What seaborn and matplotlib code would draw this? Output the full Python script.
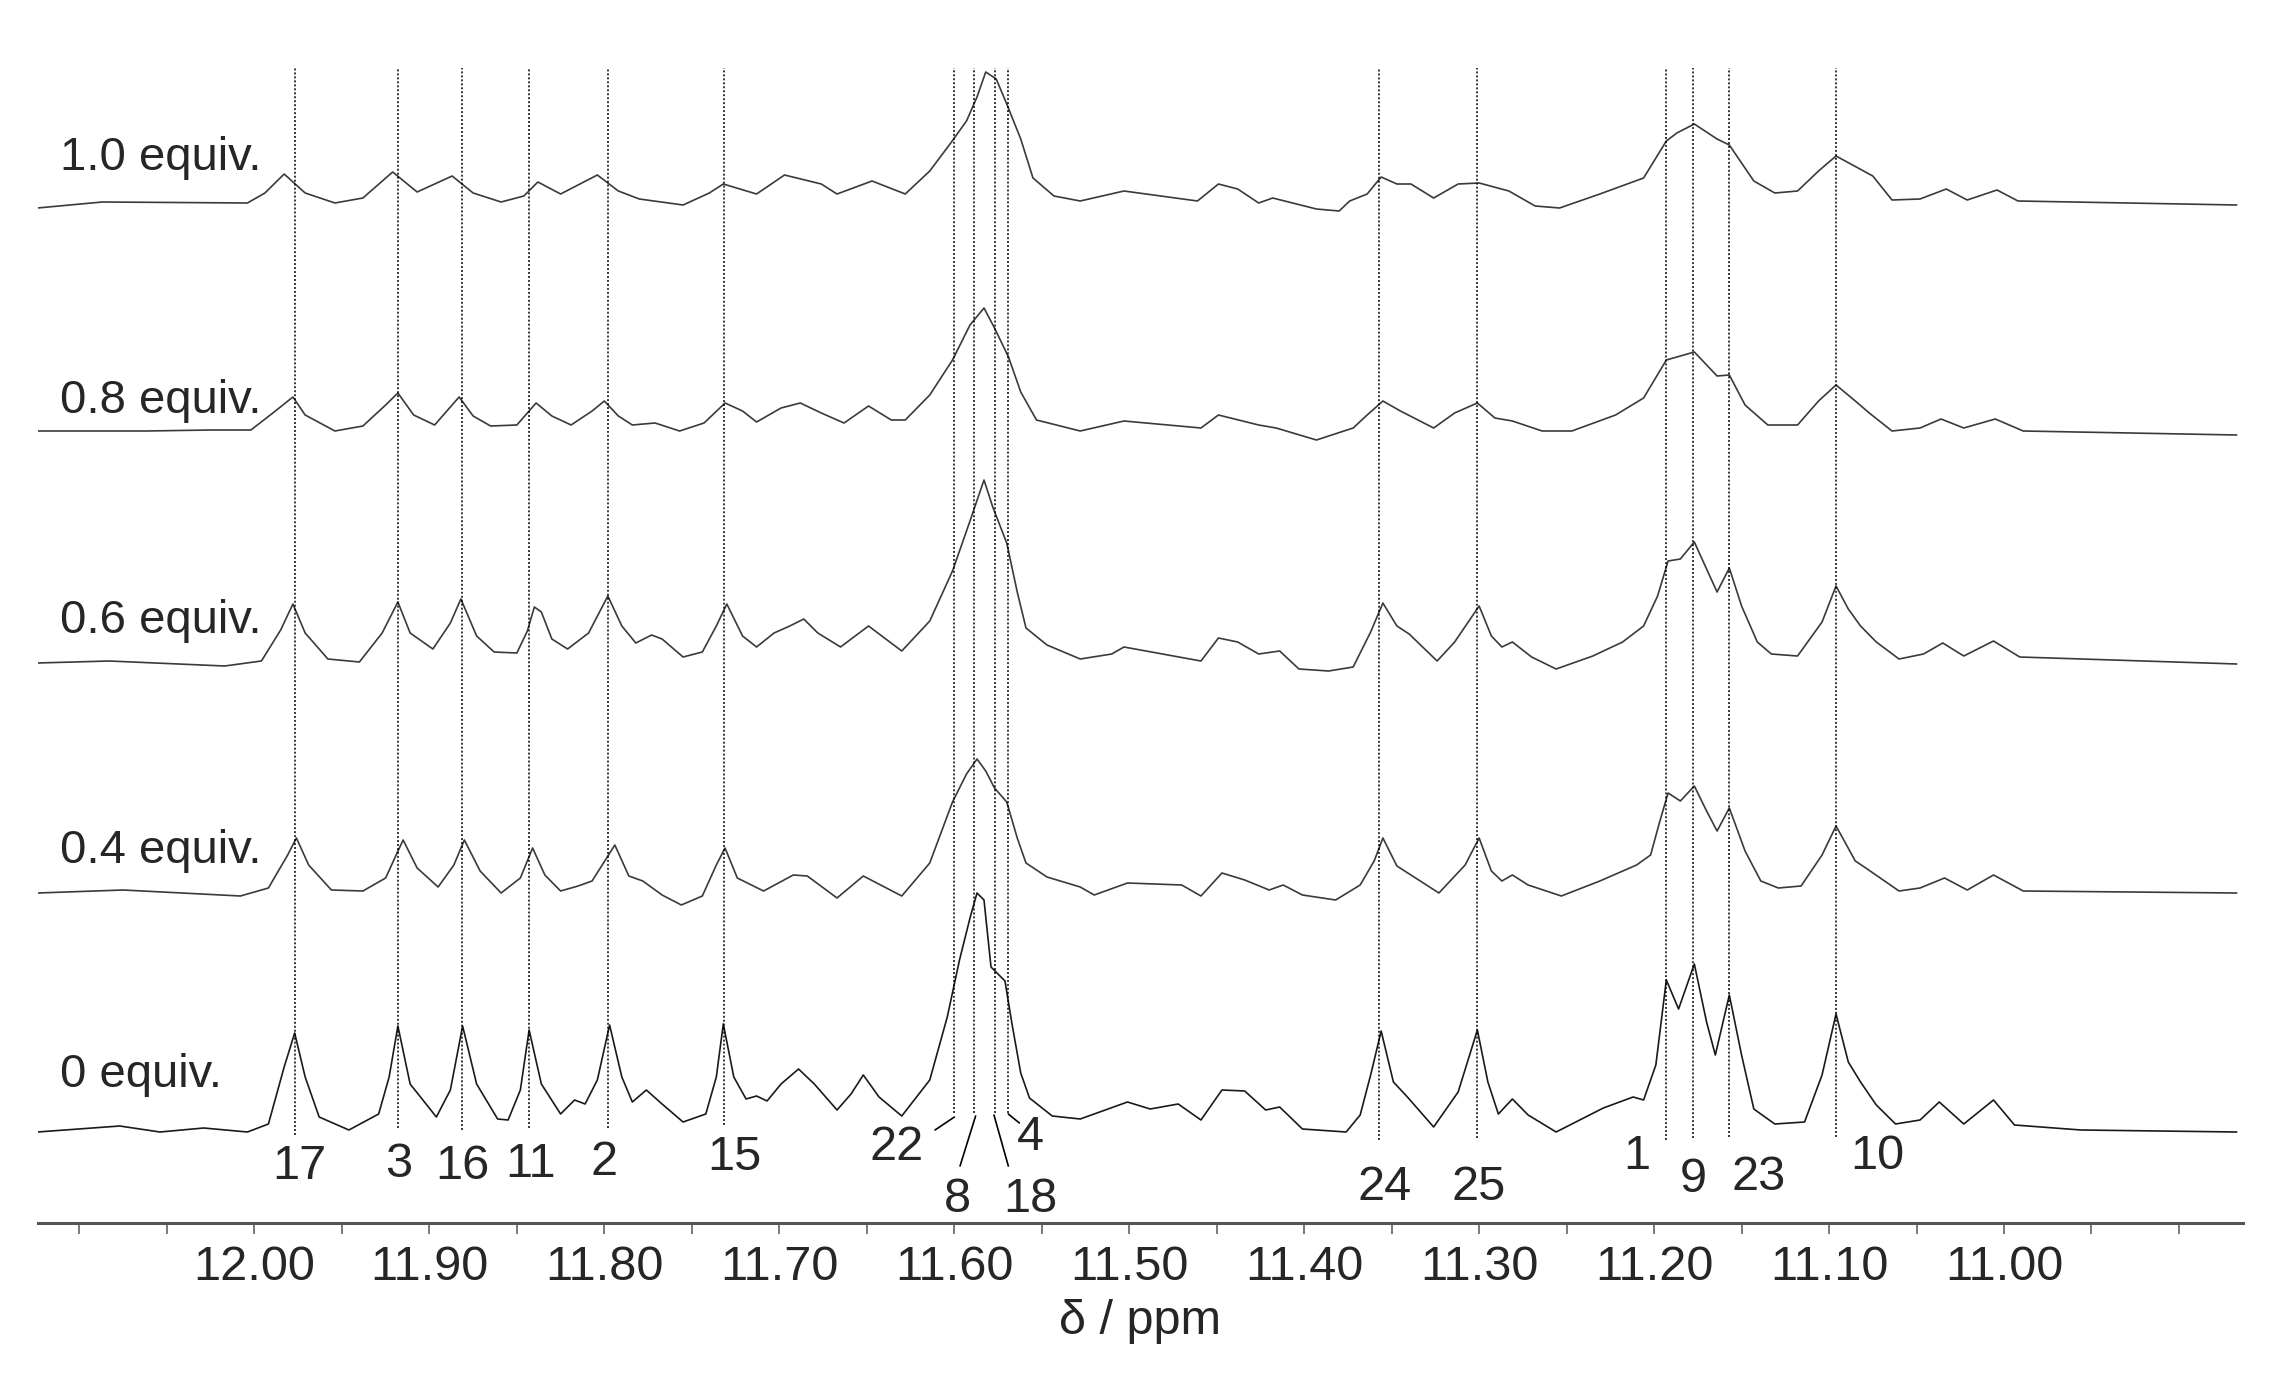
import matplotlib
matplotlib.use('Agg')
import numpy as np
import pandas as pd
import matplotlib.pyplot as plt
from matplotlib.ticker import FixedLocator
import seaborn as sns

# titration samples, top to bottom
samples = ['1.0 equiv.', '0.8 equiv.', '0.6 equiv.', '0.4 equiv.', '0 equiv.']

# spectra: chemical shift (ppm) and intensity (a.u.)
ppm_10 = [12.124, 12.087, 12.004, 11.994, 11.983, 11.971, 11.954, 11.938, 11.921, 11.907,
          11.887, 11.875, 11.859, 11.846, 11.838, 11.825, 11.804, 11.792, 11.780, 11.755,
          11.740, 11.732, 11.713, 11.697, 11.676, 11.667, 11.647, 11.628, 11.614, 11.602,
          11.593, 11.587, 11.582, 11.576, 11.570, 11.562, 11.555, 11.543, 11.528, 11.503,
          11.461, 11.449, 11.438, 11.426, 11.418, 11.393, 11.380, 11.374, 11.364, 11.356,
          11.347, 11.339, 11.326, 11.312, 11.300, 11.283, 11.268, 11.254, 11.231, 11.206,
          11.193, 11.187, 11.177, 11.164, 11.157, 11.143, 11.131, 11.118, 11.106, 11.096,
          11.075, 11.064, 11.048, 11.033, 11.021, 11.004, 10.992, 10.867]
int_10 = [-3, 3, 2, 12, 31, 12, 2, 7, 33, 13,
          29, 12, 3, 9, 23, 11, 30, 14, 6, 0,
          12, 21, 11, 30, 21, 11, 24, 11, 34, 62,
          84, 108, 133, 126, 101, 66, 27, 9, 4, 14,
          4, 21, 16, 2, 7, -4, -6, 4, 11, 28,
          21, 21, 7, 21, 22, 14, -1, -3, 11, 27,
          64, 72, 81, 66, 60, 24, 12, 14, 34, 49,
          29, 5, 6, 16, 5, 15, 4, 0]

ppm_08 = [12.124, 12.062, 12.025, 12.002, 11.988, 11.978, 11.971, 11.954, 11.938, 11.925,
          11.918, 11.909, 11.897, 11.890, 11.883, 11.875, 11.865, 11.850, 11.839, 11.830,
          11.819, 11.807, 11.800, 11.792, 11.784, 11.771, 11.757, 11.743, 11.731, 11.721,
          11.713, 11.699, 11.688, 11.676, 11.663, 11.649, 11.636, 11.628, 11.614, 11.601,
          11.591, 11.583, 11.577, 11.569, 11.562, 11.553, 11.528, 11.503, 11.459, 11.449,
          11.426, 11.416, 11.393, 11.372, 11.364, 11.355, 11.345, 11.326, 11.314, 11.301,
          11.291, 11.281, 11.264, 11.247, 11.222, 11.206, 11.193, 11.185, 11.177, 11.164,
          11.157, 11.148, 11.135, 11.118, 11.106, 11.096, 11.085, 11.077, 11.064, 11.048,
          11.036, 11.023, 11.005, 10.989, 10.867]
int_08 = [2, 2, 3, 3, 22, 36, 18, 2, 7, 28,
          40, 18, 8, 22, 36, 17, 7, 8, 30, 17,
          8, 22, 32, 17, 8, 10, 2, 10, 30, 22,
          11, 25, 30, 20, 10, 27, 13, 13, 38, 73,
          108, 125, 105, 76, 41, 13, 2, 12, 5, 18,
          8, 5, -7, 5, 18, 32, 22, 5, 20, 30,
          15, 12, 2, 2, 18, 35, 73, 77, 81, 57,
          58, 28, 8, 8, 32, 48, 32, 20, 2, 5,
          14, 5, 14, 2, -2]

ppm_06 = [12.124, 12.083, 12.017, 11.996, 11.985, 11.978, 11.971, 11.958, 11.940, 11.927,
          11.918, 11.911, 11.898, 11.888, 11.882, 11.873, 11.863, 11.850, 11.844, 11.840,
          11.836, 11.830, 11.821, 11.809, 11.798, 11.790, 11.782, 11.773, 11.767, 11.755,
          11.744, 11.736, 11.730, 11.721, 11.713, 11.703, 11.694, 11.686, 11.678, 11.665,
          11.649, 11.630, 11.614, 11.601, 11.591, 11.583, 11.578, 11.570, 11.564, 11.559,
          11.547, 11.528, 11.510, 11.503, 11.459, 11.449, 11.438, 11.426, 11.414, 11.403,
          11.386, 11.372, 11.362, 11.355, 11.347, 11.340, 11.324, 11.314, 11.300, 11.293,
          11.287, 11.281, 11.270, 11.256, 11.235, 11.218, 11.206, 11.198, 11.192, 11.185,
          11.177, 11.170, 11.164, 11.157, 11.150, 11.141, 11.133, 11.118, 11.104, 11.096,
          11.089, 11.082, 11.073, 11.060, 11.046, 11.035, 11.023, 11.006, 10.991, 10.867]
int_06 = [0, 2, -3, 2, 33, 59, 30, 4, 1, 30,
          61, 30, 14, 40, 64, 27, 11, 10, 32, 56,
          51, 24, 14, 30, 67, 37, 20, 28, 24, 6,
          11, 37, 59, 27, 16, 30, 37, 44, 30, 16,
          37, 12, 42, 92, 142, 183, 156, 120, 71, 35,
          18, 4, 9, 16, 2, 25, 21, 9, 12, -6,
          -8, -4, 31, 60, 37, 29, 2, 21, 57, 27,
          16, 21, 6, -6, 7, 21, 37, 67, 102, 104,
          121, 94, 71, 95, 57, 21, 9, 7, 41, 77,
          54, 37, 21, 4, 9, 20, 7, 22, 6, -1]

ppm_04 = [12.124, 12.075, 12.008, 11.992, 11.981, 11.976, 11.969, 11.956, 11.938, 11.925,
          11.919, 11.915, 11.907, 11.895, 11.886, 11.880, 11.871, 11.859, 11.848, 11.841,
          11.834, 11.825, 11.815, 11.807, 11.794, 11.786, 11.778, 11.767, 11.756, 11.744,
          11.736, 11.731, 11.724, 11.709, 11.692, 11.684, 11.667, 11.652, 11.630, 11.614,
          11.601, 11.593, 11.587, 11.582, 11.577, 11.570, 11.564, 11.559, 11.547, 11.528,
          11.520, 11.501, 11.470, 11.459, 11.447, 11.434, 11.420, 11.412, 11.401, 11.382,
          11.368, 11.360, 11.355, 11.347, 11.339, 11.323, 11.308, 11.300, 11.293, 11.287,
          11.281, 11.272, 11.253, 11.231, 11.210, 11.202, 11.197, 11.192, 11.185, 11.177,
          11.170, 11.164, 11.157, 11.148, 11.139, 11.129, 11.116, 11.104, 11.096, 11.085,
          11.079, 11.060, 11.048, 11.034, 11.021, 11.006, 10.989, 10.867]
int_04 = [0, 3, -3, 5, 38, 55, 28, 3, 2, 15,
          38, 53, 25, 6, 28, 53, 22, 0, 15, 45,
          18, 2, 7, 12, 48, 17, 12, -2, -12, -3,
          28, 45, 15, 2, 18, 17, -5, 17, -3, 30,
          91, 119, 134, 122, 105, 91, 55, 30, 16, 6,
          -2, 10, 8, -3, 20, 13, 3, 8, -2, -7,
          8, 32, 55, 27, 18, 0, 28, 55, 22, 12,
          18, 8, -3, 12, 28, 38, 70, 100, 92, 107,
          82, 62, 85, 42, 12, 5, 7, 38, 67, 32,
          25, 2, 5, 15, 3, 18, 2, 0]

ppm_00 = [12.124, 12.077, 12.054, 12.029, 12.004, 11.992, 11.983, 11.977, 11.971, 11.963,
          11.946, 11.929, 11.923, 11.918, 11.911, 11.896, 11.888, 11.881, 11.873, 11.861,
          11.855, 11.848, 11.843, 11.836, 11.825, 11.817, 11.811, 11.804, 11.797, 11.790,
          11.784, 11.776, 11.767, 11.755, 11.742, 11.736, 11.732, 11.726, 11.719, 11.713,
          11.707, 11.699, 11.689, 11.680, 11.667, 11.659, 11.652, 11.643, 11.630, 11.614,
          11.604, 11.597, 11.591, 11.587, 11.583, 11.579, 11.575, 11.571, 11.567, 11.562,
          11.557, 11.544, 11.528, 11.501, 11.488, 11.472, 11.459, 11.447, 11.434, 11.422,
          11.414, 11.401, 11.376, 11.368, 11.362, 11.356, 11.349, 11.341, 11.326, 11.312,
          11.301, 11.295, 11.289, 11.281, 11.272, 11.256, 11.229, 11.212, 11.206, 11.199,
          11.193, 11.186, 11.177, 11.170, 11.165, 11.157, 11.150, 11.143, 11.131, 11.114,
          11.104, 11.096, 11.089, 11.082, 11.073, 11.062, 11.048, 11.037, 11.023, 11.006,
          10.994, 10.956, 10.867]
int_00 = [0, 6, 0, 4, 0, 8, 65, 99, 55, 15,
          2, 18, 55, 106, 48, 15, 42, 106, 48, 13,
          12, 42, 102, 48, 18, 32, 28, 52, 107, 55,
          30, 42, 28, 10, 18, 55, 108, 55, 33, 36,
          31, 48, 63, 48, 22, 38, 57, 35, 16, 52,
          115, 172, 214, 239, 232, 165, 158, 151, 108, 59,
          34, 16, 13, 30, 23, 28, 12, 42, 41, 22,
          25, 3, 0, 17, 57, 101, 50, 35, 5, 40,
          102, 50, 18, 33, 17, 0, 24, 35, 32, 67,
          152, 123, 168, 110, 77, 137, 77, 23, 8, 10,
          57, 118, 70, 50, 27, 8, 12, 30, 8, 32,
          7, 2, 0]

# signal assignments (dotted guide lines)
assign_labels = ['17', '3', '16', '11', '2', '15', '22', '8', '18', '4',
                 '24', '25', '1', '9', '23', '10']
assign_ppm = [11.9767, 11.9177, 11.8811, 11.8428, 11.7979, 11.7314, 11.6001, 11.5885,
              11.5767, 11.5693, 11.3570, 11.3013, 11.1933, 11.1775, 11.1571, 11.0960]

tick_major = [12.00, 11.90, 11.80, 11.70, 11.60, 11.50, 11.40, 11.30, 11.20, 11.10, 11.00]
tick_minor = [12.10, 12.05, 11.95, 11.85, 11.75, 11.65, 11.55, 11.45, 11.35, 11.25,
              11.15, 11.05, 10.95, 10.90]

ppm_lists = [ppm_10, ppm_08, ppm_06, ppm_04, ppm_00]
int_lists = [int_10, int_08, int_06, int_04, int_00]

# ---- layout ----
offsets = [1018, 790, 560, 330, 91]            # stacking offset of each trace
sample_label_y = [1053, 810, 590, 360, 136]     # baseline of "x equiv." labels
line_top = 1155
line_bottom = [88, 95, 93, 95, 95, 98, 110, 110, 110, 110, 83, 85, 83, 85, 86, 86]
# (x, y) baseline position of each assignment number
label_pos = [(11.9745, 44), (11.9177, 46), (11.8811, 44), (11.8420, 46), (11.8002, 48),
             (11.7256, 53), (11.6328, 63), (11.5979, 11), (11.5567, 11), (11.5567, 73),
             (11.3541, 23), (11.3001, 23), (11.2098, 54), (11.1775, 31), (11.1400, 33),
             (11.0726, 54)]
leaders = [((11.6110, 93), (11.5999, 106)),
           ((11.5878, 107), (11.5967, 57)),
           ((11.5773, 108), (11.5691, 57)),
           ((11.5691, 109), (11.5628, 100))]

frames = []
for name, xs, ys, off in zip(samples, ppm_lists, int_lists, offsets):
    assert len(xs) == len(ys)
    frames.append(pd.DataFrame({'ppm': xs, 'y': np.array(ys) + off, 'sample': name}))
df = pd.concat(frames, ignore_index=True)

sns.set_theme(style='white')
plt.rcParams['font.family'] = ['Liberation Sans', 'DejaVu Sans']
plt.rcParams['lines.solid_joinstyle'] = 'round'

fig = plt.figure(figsize=(22.75, 13.75), dpi=100)
ax = fig.add_axes([38 / 2275, 152 / 1375, 2205 / 2275, 1193 / 1375])

palette = {s: '#3a3a3a' for s in samples}
palette['0 equiv.'] = '#1a1a1a'
sns.lineplot(data=df, x='ppm', y='y', hue='sample', units='sample', estimator=None,
             sort=False, palette=palette, linewidth=1.2, legend=False, ax=ax)

ax.vlines(assign_ppm, line_bottom, line_top, colors='black', linewidth=1.1,
          linestyles=(0, (1.3, 1.3)))
for (x0, y0), (x1, y1) in leaders:
    ax.plot([x0, x1], [y0, y1], color='black', linewidth=1.2)

for lab, (x, y) in zip(assign_labels, label_pos):
    ax.text(x, y, lab, fontsize=35, ha='center', va='baseline')

for s, y in zip(samples, sample_label_y):
    ax.text(12.1112, y, s, fontsize=34, ha='left', va='baseline')

ax.set_xlim(12.1237, 10.8634)
ax.set_ylim(0, 1193)
ax.set_yticks([])
ax.set_ylabel('')
ax.xaxis.set_major_locator(FixedLocator(tick_major))
ax.xaxis.set_minor_locator(FixedLocator(tick_minor))
ax.set_xticklabels([f'{t:.2f}' for t in tick_major])
ax.tick_params(axis='x', which='both', direction='out', length=8, width=1.1,
               color='#555555', pad=8, labelsize=35, bottom=True)
for side in ['left', 'right', 'top']:
    ax.spines[side].set_visible(False)
ax.spines['bottom'].set_color('#555555')
ax.spines['bottom'].set_linewidth(2.2)
ax.set_xlabel('δ / ppm', fontsize=35, labelpad=6)

fig.savefig('out.png', dpi=100, facecolor='white')
